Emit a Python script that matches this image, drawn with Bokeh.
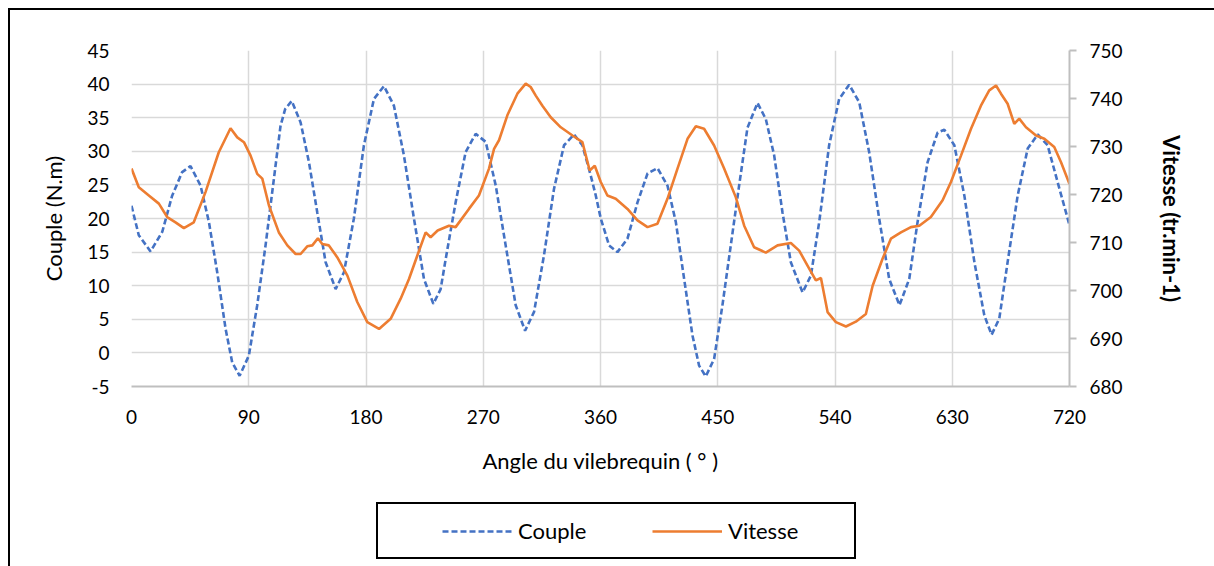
from bokeh.plotting import figure
from bokeh.models import Range1d, LinearAxis, FixedTicker, Legend, LegendItem
from bokeh.layouts import column
from bokeh.embed import file_html
from bokeh.resources import INLINE

# ---- data ----
couple_angle = [0, 5.6, 14.6, 23.6, 31.2, 38.9, 45.3, 53, 59.4, 65.8, 72.2, 77.3, 83, 90.1, 96.5,
                102.9, 109.3, 114.4, 118, 123, 129.8, 136.2, 142.6, 149, 156.7, 163.1, 170.7, 178.4,
                186.1, 193.8, 201.4, 209.1, 216.8, 224.5, 231.7, 237.3, 241.2, 248.8, 256.5, 264.2,
                271.9, 279.6, 287.2, 294.9, 302.1, 309, 316.6, 324.3, 332, 339.7, 346.1, 352.5, 356.4,
                360.2, 366.6, 373, 380.7, 388.4, 396.1, 403.7, 411.4, 417.8, 424.2, 430.6, 435.7,
                440.8, 447.2, 453.6, 460, 466.4, 472.8, 480.5, 486.9, 493.3, 499.7, 506.1, 515.1,
                521.5, 527.9, 535.5, 543.2, 550.9, 558.6, 566.2, 573.9, 581.6, 589.5, 597, 603.4,
                611.1, 618.8, 623.9, 631.6, 639.3, 647, 654.6, 660.2, 666.1, 672.5, 680.2, 687.9,
                695.6, 703.2, 710.9, 720]
couple_val = [21.9, 17.5, 15.1, 18.0, 23.4, 26.9, 27.8, 24.9, 19.5, 12.0, 3.6, -1.4, -3.4, -0.4, 7.1,
              16.0, 25.9, 33.8, 36.3, 37.5, 34.3, 28.4, 20.9, 13.5, 9.5, 12.0, 20.0, 30.9,
              37.8, 39.7, 36.8, 29.4, 20.0, 11.0, 7.3, 9.5, 14.0, 22.4, 29.9, 32.6,
              31.4, 24.9, 16.0, 7.1, 3.3, 6.1, 14.5, 24.4, 30.9, 32.5, 30.9, 26.4, 23.4,
              20.0, 16.0, 15.0, 17.0, 22.4, 26.7, 27.5, 24.9, 19.5, 11.0, 2.6, -1.9,
              -3.5, -0.9, 7.1, 16.0, 24.9, 33.5, 37.2, 34.8, 29.4, 20.9, 13.5, 9.0,
              11.5, 19.5, 30.9, 37.8, 39.9, 37.3, 29.9, 20.0, 11.0, 7.1, 11.0, 19.5,
              28.4, 32.8, 33.2, 30.9, 23.4, 13.5, 5.6, 2.7, 5.1, 13.5, 23.4, 30.4,
              32.5, 30.9, 25.4, 19.0]

vitesse_angle = [0, 5.6, 13.3, 21, 27.4, 33.8, 40.2, 47.8, 56.8, 67, 76, 81.2, 86.3, 91.4, 96.5,
                 100.4, 105.5, 113.1, 119.6, 126, 129.8, 134.9, 138.8, 143.1, 146.4, 151.5, 158,
                 165.7, 173.3, 181, 190, 198.9, 206.6, 213, 219.4, 225.8, 229.6, 235, 243.7, 248.8,
                 259, 266.7, 274.4, 278.3, 282.1, 288.5, 296.2, 302.6, 306.4, 310.3, 315.4, 321.8,
                 329.5, 338.5, 346.1, 351.7, 355.6, 360.2, 365.3, 371.7, 380.7, 388.4, 396.1, 403.7,
                 411.4, 419.1, 426.8, 433.2, 439.5, 447.2, 454.9, 463.9, 470.3, 477.9, 486.9, 495.9,
                 506.1, 512.5, 518.9, 525.3, 529.2, 534.3, 540.7, 548.4, 556, 563.7, 568.9, 576.5,
                 582.9, 590.6, 598.3, 604.7, 613.6, 622.6, 629, 636.7, 644.4, 652, 658.4, 663.6,
                 667.4, 672.5, 677.6, 681.4, 686.6, 694.3, 700.7, 708.3, 713.5, 720]
vitesse_val = [725.4, 721.5, 719.8, 718.1, 715.3, 714.2, 713.0, 714.2, 720.5, 728.8, 733.8, 731.9, 730.9,
               728.1, 724.3, 723.3, 717.7, 712.1, 709.4, 707.6, 707.6, 709.2, 709.4, 710.9, 709.7,
               709.4, 706.9, 703.1, 697.6, 693.4, 692.0, 694.1, 698.3, 702.4, 707.3, 712.1, 711.1,
               712.5, 713.5, 713.2, 717.0, 719.8, 725.4, 729.5, 731.3, 736.5, 741.0, 743.1, 742.4,
               740.6, 738.5, 736.1, 734.0, 732.3, 730.9, 725.0, 726.0, 722.6, 719.8, 719.1, 717.0,
               714.6, 713.2, 713.9, 719.1, 725.4, 731.6, 734.2, 733.7, 730.2, 725.4, 719.4, 713.5,
               709.0, 707.9, 709.4, 709.9, 708.3, 705.2, 702.1, 702.6, 695.5, 693.4, 692.5, 693.5,
               695.1, 701.0, 706.6, 710.8, 712.1, 713.2, 713.5, 715.3, 718.8, 722.6, 728.1, 733.7,
               738.5, 741.7, 742.7, 741.0, 738.9, 734.7, 735.8, 734.0, 732.3, 731.6, 729.9, 726.7,
               722.2]

x_ticks = [0, 90, 180, 270, 360, 450, 540, 630, 720]
left_ticks = [-5, 0, 5, 10, 15, 20, 25, 30, 35, 40, 45]
right_ticks = [680, 690, 700, 710, 720, 730, 740, 750]

FONT = "Lato"
TICK_SIZE = "19px"
TITLE_SIZE = "22px"
BLUE = "#4472C4"
ORANGE = "#ED7D31"
GRID = "#D9D9D9"
AXIS = "#BFBFBF"

H_MAIN = 495
H_LEG = 566 - H_MAIN

p = figure(width=1214, height=H_MAIN, output_backend="svg", toolbar_location=None,
           x_range=Range1d(0, 720), y_range=Range1d(-5, 45),
           min_border_left=131, min_border_right=145, min_border_top=50,
           min_border_bottom=H_MAIN - 386)
p.styles = {"box-shadow": "inset 8px 8px 0px 0px white, inset 10px 10px 0px 0px black",
            "background-color": "white"}
p.outline_line_color = None
p.background_fill_color = "white"
p.border_fill_color = None

p.extra_y_ranges = {"v": Range1d(680, 750)}

# x axis
xa = p.xaxis[0]
xa.ticker = FixedTicker(ticks=x_ticks)
xa.axis_label = "Angle du vilebrequin ( ° )"
xa.axis_line_color = AXIS
xa.axis_line_width = 2
xa.major_tick_out = 0
xa.major_tick_in = 0
xa.minor_tick_out = 0
xa.minor_tick_in = 0
xa.major_label_standoff = 23
xa.axis_label_standoff = 20

# left axis
ya = p.yaxis[0]
ya.ticker = FixedTicker(ticks=left_ticks)
ya.major_label_overrides = {-5: "-5"}
ya.axis_label = "Couple (N.m)"
ya.axis_line_color = None
ya.major_tick_out = 0
ya.major_tick_in = 0
ya.minor_tick_out = 0
ya.minor_tick_in = 0
ya.major_label_standoff = 22
ya.axis_label_standoff = 17

# right axis
ra = LinearAxis(y_range_name="v", ticker=FixedTicker(ticks=right_ticks),
                axis_label="Vitesse (tr.min-1)")
ra.axis_line_color = AXIS
ra.axis_line_width = 2
ra.major_tick_line_color = AXIS
ra.major_tick_line_width = 2
ra.major_tick_out = 7
ra.major_tick_in = 0
ra.minor_tick_out = 0
ra.minor_tick_in = 0
ra.major_label_standoff = 13
ra.axis_label_standoff = 32
p.add_layout(ra, "right")

for ax in (xa, ya, ra):
    ax.major_label_text_font = FONT
    ax.major_label_text_font_size = TICK_SIZE
    ax.major_label_text_color = "black"
    ax.axis_label_text_font = FONT
    ax.axis_label_text_font_size = TITLE_SIZE
    ax.axis_label_text_color = "black"
    ax.axis_label_text_font_style = "normal"
ra.axis_label_text_font_style = "bold"

# grids
p.xgrid.ticker = FixedTicker(ticks=x_ticks)
p.ygrid.ticker = FixedTicker(ticks=left_ticks)
for g in (p.xgrid[0], p.ygrid[0]):
    g.grid_line_color = GRID
    g.grid_line_width = 1.5

p.line(couple_angle, couple_val, line_color=BLUE, line_width=2.6, line_dash="6 3")
p.line(vitesse_angle, vitesse_val, line_color=ORANGE, line_width=2.6, y_range_name="v")

# ---- legend strip below the chart ----
p2 = figure(width=1214, height=H_LEG, output_backend="svg", toolbar_location=None,
            x_range=Range1d(0, 1), y_range=Range1d(0, 1),
            x_axis_location=None, y_axis_location=None,
            min_border_left=0, min_border_right=0, min_border_top=0, min_border_bottom=0)
p2.styles = {"box-shadow": "inset 8px 0px 0px 0px white, inset 10px 0px 0px 0px black",
             "background-color": "white"}
p2.outline_line_color = None
p2.background_fill_color = None
p2.border_fill_color = None
p2.grid.visible = False
# legend proxies: single-point lines draw nothing in the strip, only their legend glyphs
l_c = p2.line(couple_angle[:1], couple_val[:1], line_color=BLUE, line_width=2.6, line_dash="6 3")
l_v = p2.line(vitesse_angle[:1], vitesse_val[:1], line_color=ORANGE, line_width=2.6)

legend = Legend(items=[LegendItem(label="Couple", renderers=[l_c]),
                       LegendItem(label="Vitesse", renderers=[l_v])],
                orientation="horizontal", location=(245, 7))
legend.border_line_color = "black"
legend.border_line_alpha = 1.0
legend.border_line_width = 2
legend.padding = 13
legend.margin = 0
legend.spacing = 21
legend.glyph_width = 70
legend.glyph_height = 20
legend.label_height = 24
legend.label_width = 113
legend.label_standoff = 6
legend.label_text_font = FONT
legend.label_text_font_size = TITLE_SIZE
legend.label_text_color = "black"
legend.background_fill_color = "white"
legend.background_fill_alpha = 1.0
try:
    legend.title = "\u2003"
    legend.title_location = "left"
    legend.title_standoff = 25
    legend.title_text_font_size = TITLE_SIZE
except Exception:
    legend.title = None
p2.add_layout(legend, "center")

layout = column(p, p2, spacing=0)
open("out.html", "w").write(file_html(layout, INLINE))
